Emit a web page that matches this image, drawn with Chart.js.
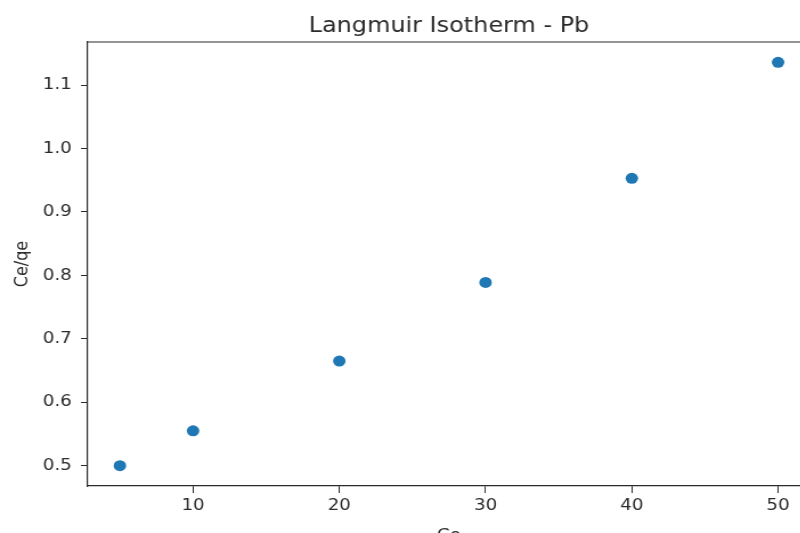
<!DOCTYPE html>
<html>
<head>
<meta charset="utf-8">
<title>Langmuir Isotherm - Pb</title>
<script src="https://cdn.jsdelivr.net/npm/chart.js@4.4.1/dist/chart.umd.min.js"></script>
<style>
  html, body { margin: 0; padding: 0; background: #fff; }
  body { width: 800px; height: 533px; overflow: hidden; position: relative; }
  /* the figure is drawn a little narrower and stretched sideways */
  #stage {
    position: absolute; left: 0; top: 0;
    width: 730px; height: 560px;
    transform: scaleX(1.14); transform-origin: 0 0;
  }
  #langmuirChart { display: block; }
</style>
</head>
<body>
<div id="stage"><canvas id="langmuirChart" width="730" height="560"></canvas></div>
<script>
// Langmuir linear form: Ce/qe against Ce
const ceValues = [5, 10, 20, 30, 40, 50];
const ceQeValues = [0.500, 0.555, 0.665, 0.789, 0.953, 1.136];

const xTicks = [10, 20, 30, 40, 50];
const yTicks = [0.5, 0.6, 0.7, 0.8, 0.9, 1.0, 1.1];

const FONT = "'DejaVu Sans', sans-serif";
const INK = '#2b2b2b';

// top edge of the axes box (left and bottom come from the axis borders)
const frameLines = {
    id: 'frameLines',
    afterDraw(chart) {
        const { ctx, chartArea: a } = chart;
        ctx.save();
        ctx.strokeStyle = INK;
        ctx.lineWidth = 1.2;
        ctx.beginPath();
        ctx.moveTo(a.left, a.top);
        ctx.lineTo(a.right, a.top);
        ctx.stroke();
        ctx.restore();
    }
};

function initializeLangmuirChart() {
    const ctx = document.getElementById('langmuirChart').getContext('2d');
    new Chart(ctx, {
        type: 'scatter',
        data: {
            datasets: [{
                label: 'Pb',
                data: ceValues.map((x, i) => ({ x: x, y: ceQeValues[i] })),
                backgroundColor: '#1f77b4',
                borderColor: '#1f77b4',
                borderWidth: 0,
                pointRadius: 5.5,
                pointHoverRadius: 5.5
            }]
        },
        options: {
            responsive: false,
            devicePixelRatio: 1,
            animation: false,
            layout: { padding: { left: 0, right: 18.6, top: 0, bottom: 0 } },
            plugins: {
                legend: { display: false },
                tooltip: { enabled: false },
                title: {
                    display: true,
                    text: 'Langmuir Isotherm - Pb',
                    fullSize: false,
                    color: INK,
                    font: { family: FONT, size: 21, weight: 'normal' },
                    padding: { top: 13.8, bottom: 3 }
                }
            },
            scales: {
                x: {
                    type: 'linear',
                    min: 2.75,
                    max: 52.25,
                    afterFit: (scale) => { scale.height = 74; },
                    afterBuildTicks: (scale) => { scale.ticks = xTicks.map(v => ({ value: v })); },
                    grid: { drawOnChartArea: false, drawTicks: true, tickLength: 7, color: INK, lineWidth: 1 },
                    border: { display: true, color: INK, width: 1.2 },
                    ticks: { color: INK, padding: 3, font: { family: FONT, size: 16 } },
                    title: {
                        display: true,
                        text: 'Ce',
                        color: INK,
                        font: { family: FONT, size: 16 },
                        padding: { top: 0, bottom: 14.4 }
                    }
                },
                y: {
                    type: 'linear',
                    min: 0.468,
                    max: 1.168,
                    afterFit: (scale) => { scale.width = 76.3; },
                    afterBuildTicks: (scale) => { scale.ticks = yTicks.map(v => ({ value: v })); },
                    grid: { drawOnChartArea: false, drawTicks: true, tickLength: 5.3, color: INK, lineWidth: 1 },
                    border: { display: true, color: INK, width: 1.2 },
                    ticks: {
                        color: INK,
                        padding: 8,
                        font: { family: FONT, size: 16 },
                        callback: (v) => v.toFixed(1)
                    },
                    title: {
                        display: true,
                        text: 'Ce/qe',
                        color: INK,
                        font: { family: FONT, size: 16 },
                        padding: { top: 10.4, bottom: 0 }
                    }
                }
            }
        },
        plugins: [frameLines]
    });
}

document.addEventListener('DOMContentLoaded', initializeLangmuirChart);
</script>
</body>
</html>
